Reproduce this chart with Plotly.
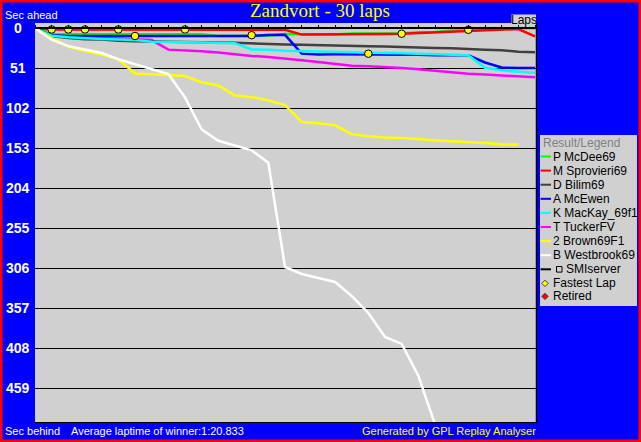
import plotly.graph_objects as go

# ---------------- data ----------------
laps = list(range(0, 31))

legend_names = ["P McDee69", "M Sprovieri69", "D Bilim69", "A McEwen",
                "K MacKay_69f1", "T TuckerFV", "2 Brown69F1", "B Westbrook69"]
legend_colors = ["#00FF00", "#FF0000", "#404040", "#0000FF",
                 "#00FFFF", "#FF00FF", "#FFFF00", "#FFFFFF"]

# seconds behind a car running the winner's average lap time, per lap
mcdee = [0, 7.3, 7.6, 7.6, 7.6, 7.6, 7.6, 7.6, 7.6, 7.6, 7.6, 9.8, 9.8, 9.8, 9.6, 7.3,
         7.8, 7.8, 7.8, 6.6, 6.6, 6.6, 6.6, 5.1, 4.8, 2.7, 2.7, 1.0, 1.0, 0.0, 0.0]
sprovieri = [0, 1.5, 1.5, 1.5, 1.5, 1.5, 1.5, 1.5, 1.5, 1.5, 1.5, 1.5, 1.8, 2.0, 2.0, 2.0,
             8.0, 8.0, 8.0, 8.3, 7.6, 7.4, 7.0, 6.0, 5.1, 4.5, 3.4, 2.3, 1.3, 0.9, 10.2]
bilim = [0, 9.8, 12.5, 14.0, 14.4, 16.0, 16.5, 16.8, 16.8, 16.8, 16.8, 18.0, 18.5, 19.5, 20.4,
         20.6, 21.0, 21.5, 22.8, 23.0, 23.0, 23.3, 23.6, 24.6, 25.0, 25.5, 25.9, 27.2, 28.0,
         30.0, 30.6]
mcewen = [0, 9.0, 9.8, 9.8, 9.8, 9.8, 9.8, 9.8, 9.8, 9.8, 9.8, 9.8, 9.8, 9.8, 8.5, 8.3,
          32.3, 33.5, 33.2, 33.2, 33.2, 33.2, 33.2, 33.8, 34.4, 34.4, 34.4, 43.6, 50.0, 50.6,
          50.6]
mackay = [0, 9.5, 11.5, 12.8, 13.5, 14.2, 15.0, 17.2, 17.9, 17.9, 18.1, 18.2, 19.1, 27.0,
          27.2, 28.7, 29.3, 30.0, 30.2, 30.6, 31.0, 31.5, 31.9, 32.5, 33.2, 33.5, 34.4, 50.4,
          53.6, 55.5, 56.8]
tucker = [0, 9.5, 11.5, 12.5, 12.8, 13.0, 13.6, 15.0, 27.2, 28.0, 29.3, 31.0, 33.2, 35.3,
          36.6, 38.3, 40.8, 43.0, 45.0, 47.6, 48.5, 49.3, 50.6, 52.3, 54.4, 55.7, 57.8, 59.0,
          60.3, 61.8, 62.5]
brown = [0, 12.4, 23.2, 29.0, 33.5, 39.5, 57.6, 58.6, 60.2, 60.8, 68.9, 73.0, 85.8, 87.8,
         91.8, 97.8, 119.5, 121.0, 123.7, 135.0, 137.7, 139.4, 140.0, 141.0, 142.8, 144.0,
         145.0, 146.2, 148.0, 148.3]
westbrook = [0, 14.5, 22.7, 27.0, 31.5, 39.5, 45.5, 51.4, 58.3, 88.0, 129.0, 143.4, 149.8,
             155.6, 171.5, 304.4, 313.3, 318.4, 323.5, 341.3, 363.0, 393.6, 402.5, 443.0, 505.0]

series = [mcdee, sprovieri, bilim, mcewen, mackay, tucker, brown, westbrook]
draw_order = [0, 1, 5, 2, 3, 4, 6, 7]

fastest_laps = [1, 2, 3, 5, 6, 9, 13, 20, 22, 26]
fastest_vals = [1.5, 1.5, 1.5, 1.5, 9.8, 1.5, 8.8, 32.4, 6.9, 1.9]

y_ticks = [0, 51, 102, 153, 204, 255, 306, 357, 408, 459]

title_text = "Zandvort - 30 laps"
avg_text = "Average laptime of winner:1:20.833"

# ---------------- layout helpers ----------------
FW, FH = 641, 442
L, R, T, B = 35, 537, 23, 423
W, H = R - L, B - T
Y_MIN, Y_MAX = -6.76, 503.3
X_MAX = 30.12


def xp(px):
    return (px - L) / W


def yp(py):
    return (B - py) / H


BG = "#D0D0D0"
fig = go.Figure()

for i in draw_order:
    vals = series[i]
    fig.add_trace(go.Scatter(
        x=laps[:len(vals)], y=vals, mode="lines", name=legend_names[i],
        line=dict(color=legend_colors[i], width=2.5), showlegend=False,
        hoverinfo="skip"))

fig.add_trace(go.Scatter(
    x=fastest_laps, y=fastest_vals, mode="markers", name="Fastest Lap",
    marker=dict(symbol="circle", size=7.5, color="#FFFF00",
                line=dict(color="#000000", width=1)),
    showlegend=False, cliponaxis=False, hoverinfo="skip"))

shapes = []
annotations = []

# outer red frame
shapes.append(dict(type="rect", xref="paper", yref="paper",
                   x0=xp(0), x1=xp(FW), y0=yp(FH), y1=yp(0),
                   line=dict(color="#FF0000", width=5), fillcolor="rgba(0,0,0,0)",
                   layer="above"))
# right & bottom plot border
shapes.append(dict(type="line", xref="paper", yref="paper", x0=xp(536.5), x1=xp(536.5),
                   y0=yp(423), y1=yp(23), line=dict(color="#000000", width=1.5)))
shapes.append(dict(type="line", xref="paper", yref="paper", x0=xp(35), x1=xp(537),
                   y0=yp(422.5), y1=yp(422.5), line=dict(color="#000000", width=1)))
# "Laps" box
shapes.append(dict(type="rect", xref="paper", yref="paper", x0=xp(511.5), x1=xp(536),
                   y0=yp(23.5), y1=yp(14.5), fillcolor=BG, line=dict(width=0)))
annotations.append(dict(text="Laps", xref="paper", yref="paper", x=xp(524), y=yp(20.5),
                        xanchor="center", yanchor="middle", showarrow=False,
                        font=dict(family="Liberation Sans", size=12, color="#000000")))

# title & captions
annotations.append(dict(text=title_text, xref="paper", yref="paper", x=xp(320), y=yp(11),
                        xanchor="center", yanchor="middle", showarrow=False,
                        font=dict(family="Liberation Serif", size=19, color="#FFFF00")))
annotations.append(dict(text="Sec ahead", xref="paper", yref="paper", x=xp(3), y=yp(15),
                        xanchor="left", yanchor="middle", showarrow=False,
                        font=dict(family="Liberation Sans", size=11, color="#FFFFFF")))
annotations.append(dict(text="Sec behind", xref="paper", yref="paper", x=xp(3), y=yp(431),
                        xanchor="left", yanchor="middle", showarrow=False,
                        font=dict(family="Liberation Sans", size=11, color="#FFFFFF")))
annotations.append(dict(text=avg_text, xref="paper", yref="paper", x=xp(69), y=yp(431),
                        xanchor="left", yanchor="middle", showarrow=False,
                        font=dict(family="Liberation Sans", size=11, color="#FFFFFF")))
annotations.append(dict(text="Generated by GPL Replay Analyser", xref="paper", yref="paper",
                        x=xp(538), y=yp(431), xanchor="right", yanchor="middle",
                        showarrow=False,
                        font=dict(family="Liberation Sans", size=11, color="#FFFF00")))

# y tick labels (centered, bold white)
for v in y_ticks:
    annotations.append(dict(text=str(v), xref="paper", yref="y", x=xp(18), y=v,
                            xanchor="center", yanchor="middle", showarrow=False,
                            font=dict(family="Liberation Sans", size=14, color="#FFFFFF",
                                      weight="bold")))

# custom legend
LEG_X0, LEG_X1, LEG_Y0, LEG_Y1 = 540, 637, 135, 306
shapes.append(dict(type="rect", xref="paper", yref="paper", x0=xp(LEG_X0), x1=xp(LEG_X1),
                   y0=yp(LEG_Y1), y1=yp(LEG_Y0), fillcolor=BG, line=dict(width=0)))
annotations.append(dict(text="Result/Legend", xref="paper", yref="paper", x=xp(540.5),
                        y=yp(143), xanchor="left", yanchor="middle", showarrow=False,
                        font=dict(family="Liberation Sans", size=12, color="#808080")))
row0, step = 156.5, 14.1
for k, (name, col) in enumerate(zip(legend_names, legend_colors)):
    yy = row0 + step * k
    shapes.append(dict(type="line", xref="paper", yref="paper", x0=xp(540.5), x1=xp(551),
                       y0=yp(yy), y1=yp(yy), line=dict(color=col, width=2)))
    annotations.append(dict(text=name, xref="paper", yref="paper", x=xp(550.5), y=yp(yy),
                            xanchor="left", yanchor="middle", showarrow=False,
                            font=dict(family="Liberation Sans", size=12, color="#000000")))
k = len(legend_names)
yy = row0 + step * k
shapes.append(dict(type="line", xref="paper", yref="paper", x0=xp(540.5), x1=xp(551),
                   y0=yp(yy), y1=yp(yy), line=dict(color="#000000", width=2)))
shapes.append(dict(type="rect", xref="paper", yref="paper", x0=xp(556.5), x1=xp(562),
                   y0=yp(yy + 2.8), y1=yp(yy - 2.8), line=dict(color="#000000", width=1),
                   fillcolor="rgba(0,0,0,0)"))
annotations.append(dict(text="SMIserver", xref="paper", yref="paper", x=xp(564), y=yp(yy),
                        xanchor="left", yanchor="middle", showarrow=False,
                        font=dict(family="Liberation Sans", size=12, color="#000000")))
for j, (label, col) in enumerate([("Fastest Lap", "#FFFF00"), ("Retired", "#FF0000")]):
    yy = row0 + step * (k + 1) + j * 13
    cx, cy, r = xp(545), yp(yy), 3.2
    path = (f"M {xp(545 - r)} {cy} L {cx} {yp(yy - r)} L {xp(545 + r)} {cy} "
            f"L {cx} {yp(yy + r)} Z")
    shapes.append(dict(type="path", xref="paper", yref="paper", path=path,
                       fillcolor=col, line=dict(color="#404040", width=1)))
    annotations.append(dict(text=label, xref="paper", yref="paper", x=xp(550.5), y=yp(yy),
                            xanchor="left", yanchor="middle", showarrow=False,
                            font=dict(family="Liberation Sans", size=12, color="#000000")))

zero_pos = (Y_MAX - 0) / (Y_MAX - Y_MIN)

fig.update_layout(
    width=FW, height=FH,
    margin=dict(l=L, r=FW - R, t=T, b=FH - B, pad=0),
    paper_bgcolor="#0000FF", plot_bgcolor=BG,
    showlegend=False,
    shapes=shapes, annotations=annotations,
    xaxis=dict(range=[0, X_MAX], side="top", anchor="free", position=zero_pos,
               showgrid=False, zeroline=False, showline=True, linecolor="#000000",
               linewidth=1.5, ticks="outside", ticklen=3, tickcolor="#000000",
               tickwidth=1, tick0=0, dtick=1, showticklabels=False, fixedrange=True),
    yaxis=dict(range=[Y_MAX, Y_MIN], tickvals=y_ticks, showticklabels=False,
               showgrid=True, gridcolor="#000000", gridwidth=1, zeroline=False,
               showline=False, ticks="", fixedrange=True),
)

fig.write_html("out.html",
               config={"displayModeBar": False},
               post_script="document.body.style.margin='0';"
                           "document.body.style.overflow='hidden';")
